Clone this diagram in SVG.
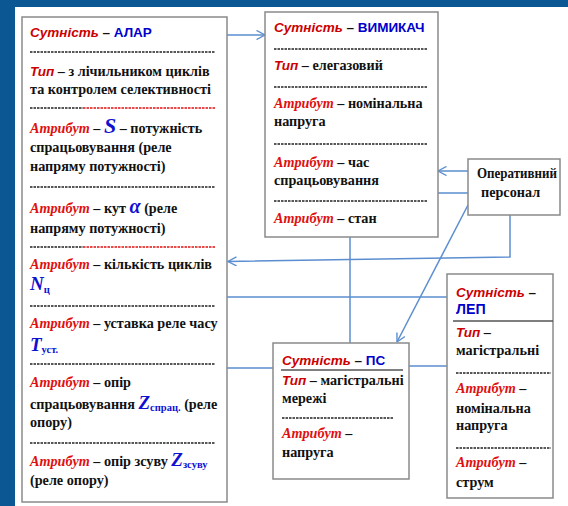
<svg xmlns="http://www.w3.org/2000/svg" width="568" height="506" viewBox="0 0 568 506">
<defs>
<marker id="arr" viewBox="0 0 10 10" refX="9.5" refY="5" markerWidth="10" markerHeight="10" markerUnits="userSpaceOnUse" orient="auto">
<path d="M1,0.5 L9.5,5 L1,9.5" fill="none" stroke="#5b8ed0" stroke-width="1.4"/>
</marker>
</defs>
<style>
.box{fill:#fff;stroke:#8a8a8a;stroke-width:1.5}
.c{fill:none;stroke:#5b8ed0;stroke-width:1.5}
.d{stroke:#222;stroke-width:1.6;stroke-dasharray:2.5 1}
.dr{stroke:#e01010;stroke-width:1.6;stroke-dasharray:2.5 1}
.sl{stroke:#555;stroke-width:1.5}
text{font-family:"Liberation Serif","Times New Roman",serif;font-weight:bold;font-size:14.2px;fill:#111}
.h{font-family:"Liberation Sans",Arial,sans-serif;font-weight:bold;font-size:13.5px}
.hr{font-family:"Liberation Sans",Arial,sans-serif;font-weight:bold;font-style:italic;fill:#cc0000}
.hb{font-family:"Liberation Sans",Arial,sans-serif;font-weight:bold;fill:#0000cc}
.a{font-style:italic;fill:#e01010}
.v{font-style:italic;fill:#1010d0}
.sub{font-size:10.5px;fill:#1010d0}
</style>
<rect x="0" y="0" width="568" height="506" fill="#fff"/>
<rect x="0" y="0" width="568" height="7" fill="#0a5794"/>
<rect x="0" y="0" width="15" height="506" fill="#0a5794"/>

<g id="connectors">
<line class="c" x1="227" y1="35" x2="265" y2="35" marker-end="url(#arr)"/>
<line class="c" x1="468" y1="171" x2="438" y2="171" marker-end="url(#arr)"/>
<line class="c" x1="438" y1="193" x2="468" y2="193"/>
<polyline class="c" points="510,215 510,257 228,261.5" marker-end="url(#arr)"/>
<line class="c" x1="468" y1="205" x2="397" y2="342" marker-end="url(#arr)"/>
<line class="c" x1="350" y1="237" x2="350" y2="343"/>
<line class="c" x1="227" y1="297" x2="447" y2="297"/>
<line class="c" x1="409" y1="366" x2="447" y2="366"/>
<line class="c" x1="227" y1="368" x2="273" y2="368"/>
</g>

<g id="alar">
<rect class="box" x="22" y="17" width="205" height="485"/>
<text x="30" y="37" class="h"><tspan class="hr">Сутність</tspan> – <tspan class="hb">АЛАР</tspan></text>
<line class="d" x1="30" y1="52" x2="215" y2="52"/>
<text x="30" y="76"><tspan class="hr" font-size="13.5">Тип</tspan> – з лічильником циклів</text>
<text x="30" y="94">та контролем селективності</text>
<line class="d" x1="30" y1="108" x2="83" y2="108"/><line class="dr" x1="83" y1="108" x2="215" y2="108"/>
<text x="30" y="133"><tspan class="a">Атрибут</tspan> – <tspan class="v" font-size="22">S</tspan> – потужність</text>
<text x="30" y="152">спрацьовування  (реле</text>
<text x="30" y="171">напряму потужності)</text>
<line class="d" x1="30" y1="187" x2="215" y2="187"/>
<text x="30" y="213"><tspan class="a">Атрибут</tspan> – кут <tspan class="v" font-size="20">α</tspan> (реле</text>
<text x="30" y="233">напряму потужності)</text>
<line class="d" x1="30" y1="247" x2="83" y2="247"/><line class="dr" x1="83" y1="247" x2="215" y2="247"/>
<text x="30" y="269"><tspan class="a">Атрибут</tspan> – кількість циклів</text>
<text x="30" y="290"><tspan class="v" font-size="19">N</tspan><tspan class="sub" dy="3">ц</tspan></text>
<line class="d" x1="30" y1="306" x2="215" y2="306"/>
<text x="30" y="328"><tspan class="a">Атрибут</tspan> – уставка реле часу</text>
<text x="30" y="351"><tspan class="v" font-size="19">T</tspan><tspan class="sub" dy="2">уст.</tspan></text>
<line class="d" x1="30" y1="364" x2="215" y2="364"/>
<text x="30" y="387"><tspan class="a">Атрибут</tspan> – опір</text>
<text x="30" y="409">спрацьовування <tspan class="v" font-size="19">Z</tspan><tspan class="sub" dy="2">спрац.</tspan><tspan dy="-2"> (реле</tspan></text>
<text x="30" y="427">опору)</text>
<line class="d" x1="30" y1="443" x2="215" y2="443"/>
<text x="30" y="466"><tspan class="a">Атрибут</tspan> – опір зсуву <tspan class="v" font-size="19">Z</tspan><tspan class="sub" dy="2">зсуву</tspan></text>
<text x="30" y="485">(реле опору)</text>
</g>

<g id="vymykach">
<rect class="box" x="265" y="12" width="173" height="225"/>
<text x="274" y="32" class="h"><tspan class="hr">Сутність</tspan> – <tspan class="hb">ВИМИКАЧ</tspan></text>
<line class="d" x1="274" y1="49" x2="427" y2="49"/>
<text x="274" y="70"><tspan class="hr" font-size="13.5">Тип</tspan> – елегазовий</text>
<line class="d" x1="274" y1="87" x2="427" y2="87"/>
<text x="274" y="108"><tspan class="a">Атрибут</tspan> – номінальна</text>
<text x="274" y="126">напруга</text>
<line class="d" x1="274" y1="144" x2="427" y2="144"/>
<text x="274" y="167"><tspan class="a">Атрибут</tspan> – час</text>
<text x="274" y="185">спрацьовування</text>
<line class="d" x1="274" y1="201" x2="427" y2="201"/>
<text x="274" y="223"><tspan class="a">Атрибут</tspan> – стан</text>
</g>

<g id="operator">
<rect class="box" x="468" y="159" width="92" height="56"/>
<text x="477" y="178" font-size="12" textLength="80" lengthAdjust="spacingAndGlyphs">Оперативний</text>
<text x="481" y="197" font-size="12">персонал</text>
</g>

<g id="lep">
<rect class="box" x="447" y="274" width="106" height="224"/>
<text x="456" y="297" class="h"><tspan class="hr">Сутність</tspan> –</text>
<text x="456" y="314" class="hb" font-size="13.5">ЛЕП</text>
<line class="sl" x1="453" y1="321" x2="553" y2="321"/>
<text x="456" y="337"><tspan class="hr" font-size="13.5">Тип</tspan> –</text>
<text x="456" y="355">магістральні</text>
<line class="d" x1="456" y1="373" x2="551" y2="373"/>
<text x="456" y="393"><tspan class="a">Атрибут</tspan> –</text>
<text x="456" y="413">номінальна</text>
<text x="456" y="430">напруга</text>
<line class="d" x1="456" y1="448" x2="551" y2="448"/>
<text x="456" y="467"><tspan class="a">Атрибут</tspan> –</text>
<text x="456" y="487">струм</text>
</g>

<g id="ps">
<rect class="box" x="273" y="343" width="136" height="136"/>
<text x="282" y="365" class="h"><tspan class="hr">Сутність</tspan> – <tspan class="hb">ПС</tspan></text>
<line class="sl" x1="281" y1="370" x2="403" y2="370"/>
<text x="282" y="385"><tspan class="hr" font-size="13.5">Тип</tspan> – магістральні</text>
<text x="282" y="403">мережі</text>
<line class="d" x1="282" y1="418" x2="393" y2="418"/>
<text x="282" y="438"><tspan class="a">Атрибут</tspan> –</text>
<text x="282" y="457">напруга</text>
</g>
</svg>
